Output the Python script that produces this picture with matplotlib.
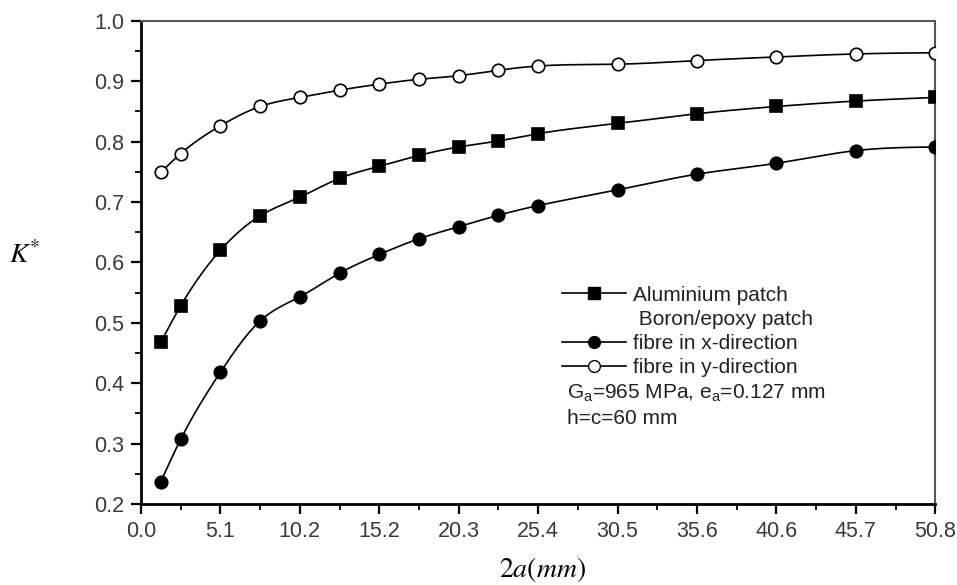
import matplotlib
matplotlib.use("Agg")
import matplotlib.pyplot as plt
from matplotlib.lines import Line2D
from matplotlib.ticker import MultipleLocator, FormatStrFormatter
import numpy as np

plt.rcParams['font.family'] = ['Liberation Sans', 'DejaVu Sans']
plt.rcParams['mathtext.fontset'] = 'stix'
plt.rcParams['mathtext.default'] = 'regular'

# crack length 2a (mm)
crack = [1.27, 2.54, 5.08, 7.62, 10.16, 12.7, 15.24, 17.78, 20.32, 22.86,
         25.4, 30.48, 35.56, 40.64, 45.72, 50.8]
aluminium = [0.468, 0.528, 0.620, 0.677, 0.708, 0.739, 0.759, 0.777, 0.791,
             0.801, 0.813, 0.830, 0.846, 0.858, 0.867, 0.873]
fibre_x = [0.237, 0.307, 0.418, 0.503, 0.543, 0.582, 0.613, 0.639, 0.659,
           0.678, 0.694, 0.720, 0.746, 0.764, 0.785, 0.791]
fibre_y = [0.749, 0.780, 0.826, 0.858, 0.873, 0.885, 0.895, 0.903, 0.909,
           0.918, 0.925, 0.928, 0.934, 0.940, 0.945, 0.947]
xticks = [0.0, 5.08, 10.16, 15.24, 20.32, 25.4, 30.48, 35.56, 40.64, 45.72, 50.8]
xticklabels = ['0.0', '5.1', '10.2', '15.2', '20.3', '25.4', '30.5', '35.6',
               '40.6', '45.7', '50.8']


def smooth(x, y, n=400):
    # natural cubic spline, only used to draw the curve between the points
    x = np.asarray(x, float)
    y = np.asarray(y, float)
    m = len(x)
    h = np.diff(x)
    A = np.zeros((m, m))
    r = np.zeros(m)
    A[0, 0] = A[-1, -1] = 1
    for i in range(1, m - 1):
        A[i, i - 1] = h[i - 1]
        A[i, i] = 2 * (h[i - 1] + h[i])
        A[i, i + 1] = h[i]
        r[i] = 6 * ((y[i + 1] - y[i]) / h[i] - (y[i] - y[i - 1]) / h[i - 1])
    M = np.linalg.solve(A, r)
    xs = np.linspace(x[0], x[-1], n)
    k = np.clip(np.searchsorted(x, xs) - 1, 0, m - 2)
    t0 = x[k + 1] - xs
    t1 = xs - x[k]
    hk = h[k]
    ys = (M[k] * t0**3 + M[k + 1] * t1**3) / (6 * hk) \
        + (y[k] / hk - M[k] * hk / 6) * t0 + (y[k + 1] / hk - M[k + 1] * hk / 6) * t1
    return xs, ys


fig = plt.figure(figsize=(9.57, 5.85), dpi=100)
ax = fig.add_axes([0.1473, 0.1385, 0.83, 0.8261])

series = [(aluminium, 's', 'k'), (fibre_x, 'o', 'k'), (fibre_y, 'o', 'white')]
for vals, mk, fc in series:
    xs, ys = smooth(crack, vals)
    ax.plot(xs, ys, color='k', lw=1.2, zorder=2)
    ax.plot(crack, vals, ls='none', marker=mk, ms=9 if mk == 'o' else 8.5,
            mfc=fc, mec='k', mew=1.2, zorder=3)

ax.set_xlim(0, 50.8)
ax.set_ylim(0.2, 1.0)
ax.set_xticks(xticks)
ax.set_xticklabels(xticklabels)
ax.xaxis.set_minor_locator(MultipleLocator(2.54))
ax.yaxis.set_major_locator(MultipleLocator(0.1))
ax.yaxis.set_minor_locator(MultipleLocator(0.05))
ax.yaxis.set_major_formatter(FormatStrFormatter('%.1f'))
ax.tick_params(which='major', direction='out', length=7, width=1.6,
               labelsize=15.5, labelcolor='#3a3a3a', pad=5)
ax.tick_params(which='minor', direction='out', length=4, width=1.3)
ax.tick_params(top=False, right=False, which='both')

for s in ['left', 'bottom']:
    ax.spines[s].set_linewidth(2.0)
for s in ['top', 'right']:
    ax.spines[s].set_linewidth(1.5)
    ax.spines[s].set_color('#555555')

ax.set_xlabel(r'$\mathrm{2}\mathit{a}\mathrm{(}\mathit{mm}\mathrm{)}$', fontsize=20,
              va='center')
ax.xaxis.set_label_coords(0.505, -0.135)
ax.set_ylabel(r'$\mathit{K}^{\mathrm{*}}$', fontsize=20, rotation=0,
              va='center', ha='center')
ax.yaxis.set_label_coords(-0.147, 0.515)

handles = [
    Line2D([], [], color='k', lw=1.2, marker='s', ms=8, mfc='k', mec='k'),
    Line2D([], [], color='none'),
    Line2D([], [], color='k', lw=1.2, marker='o', ms=8.5, mfc='k', mec='k'),
    Line2D([], [], color='k', lw=1.2, marker='o', ms=8.5, mfc='white', mec='k'),
]
labels = ['Aluminium patch', ' Boron/epoxy patch', 'fibre in x-direction',
          'fibre in y-direction']
leg = ax.legend(handles, labels, loc='upper left', bbox_to_anchor=(0.5295, 0.452),
                frameon=False, fontsize=15, handlelength=3.1, handletextpad=0.33,
                labelspacing=0.25, borderaxespad=0, borderpad=0)
for t in leg.get_texts():
    t.set_color('#222222')

ax.text(0.5365, 0.229, 'G$_{a}$=965 MPa, e$_{a}$=0.127 mm', transform=ax.transAxes,
        fontsize=15, color='#222222', va='center')
ax.text(0.5365, 0.177, 'h=c=60 mm', transform=ax.transAxes,
        fontsize=15, color='#222222', va='center')

fig.savefig('out.png', dpi=100)
